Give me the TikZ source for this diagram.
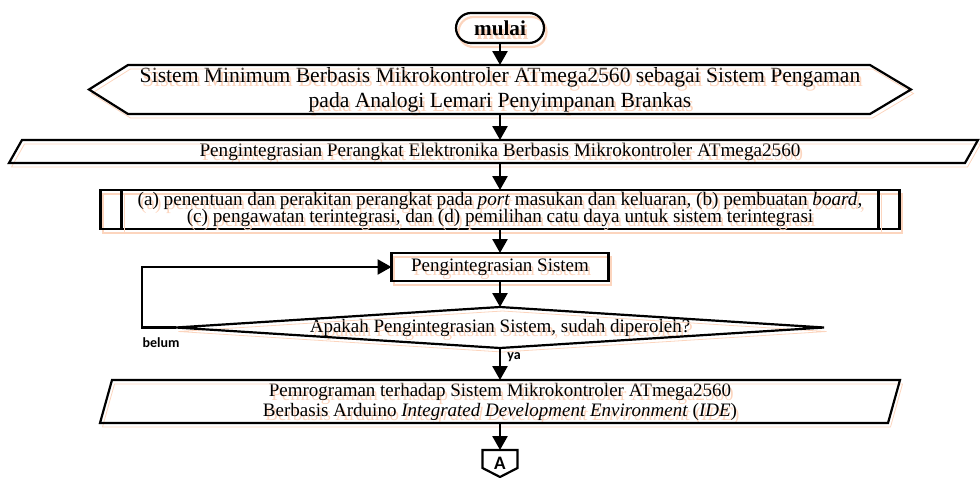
\documentclass[tikz,border=0pt]{standalone}
\usepackage{fontspec}
\setmainfont{Liberation Serif}
\newfontfamily\lblfont{Carlito}
\usetikzlibrary{arrows.meta}
\definecolor{peach}{RGB}{252,213,190}
% centred lines, with a peach shadow below
\newcommand{\lines}[1]{\vbox{\let\\\cr\lineskiplimit=-20pt\halign{\hfil##\hfil\cr#1\crcr}}}
\newcommand{\shtxt}[1]{\leavevmode\rlap{\raisebox{-2pt}[0pt][0pt]{\hspace{1.25pt}\color{peach}\lines{#1}}}\lines{#1}}
\tikzset{
  box/.style 2 args={inner sep=0pt, outer sep=0pt, minimum width=#1*0.5pt, minimum height=#2*0.5pt, font=\fontsize{9.5}{8.5}\selectfont},
  outline/.style={draw=black, line width=1.1pt, line join=miter, preaction={draw=peach, transform canvas={shift={(1.25pt,-2pt)}}}},
  arr/.style={line width=1.3pt, -{Triangle[length=7pt,width=7.5pt]}},
  lbl/.style={font=\lblfont\bfseries\fontsize{7}{8}\selectfont, inner sep=0pt}
}
\begin{document}
\begin{tikzpicture}[x=0.5pt, y=-0.5pt]
\useasboundingbox (0,0) rectangle (980,477);
% start and preparation
\node[box={88}{30}, outline, rounded corners=7.5pt, font=\bfseries\fontsize{10.6}{12}\selectfont] (start) at (500,28) {\shtxt{mulai}};
\node[box={822}{49}, font=\fontsize{10.8}{12.5}\selectfont] (prep) at (500,89.5) {\shtxt{Sistem Minimum Berbasis Mikrokontroler ATmega2560 sebagai Sistem Pengaman\\pada Analogi Lemari Penyimpanan Brankas}};
\draw[outline] (prep.west) -- ([xshift=19.5pt]prep.north west) -- ([xshift=-20.5pt]prep.north east) -- (prep.east) -- ([xshift=-20.5pt]prep.south east) -- ([xshift=19.5pt]prep.south west) -- cycle;
% input
\node[box={969}{23}] (p1) at (493.5,151.5) {};
\node[box={600}{20}, font=\fontsize{9.6}{10}\selectfont] (p1text) at (500,151.5) {\shtxt{Pengintegrasian Perangkat Elektronika Berbasis Mikrokontroler ATmega2560}};
\draw[outline] ([xshift=6.5pt]p1.north west) -- (p1.north east) -- ([xshift=-6.5pt]p1.south east) -- (p1.south west) -- cycle;
% predefined process
\node[box={799}{39}, outline, font=\fontsize{9.6}{8.5}\selectfont] (proc) at (500,209.5) {\shtxt{(a) penentuan dan perakitan perangkat pada \textit{port} masukan dan keluaran, (b) pembuatan \textit{board},\\(c) pengawatan terintegrasi, dan (d) pemilihan catu daya untuk sistem terintegrasi}};
\draw[outline] ([xshift=10.5pt]proc.north west) -- ([xshift=10.5pt]proc.south west)
  ([xshift=-10.5pt]proc.north east) -- ([xshift=-10.5pt]proc.south east);
% process and decision
\node[box={217}{28}, outline] (integ) at (500,267) {\shtxt{Pengintegrasian Sistem}};
\node[box={648}{41}] (dec) at (500,327.5) {\shtxt{Apakah Pengintegrasian Sistem, sudah diperoleh?}};
\draw[outline] (dec.west) -- (dec.north) -- (dec.east) -- (dec.south) -- cycle;
% programming
\node[box={800}{43}, font=\fontsize{9.5}{10}\selectfont] (p2) at (500,401.5) {\shtxt{Pemrograman terhadap Sistem Mikrokontroler ATmega2560\\Berbasis Arduino \textit{Integrated Development Environment} (\textit{IDE})}};
\draw[outline] ([xshift=6pt]p2.north west) -- (p2.north east) -- ([xshift=-6pt]p2.south east) -- (p2.south west) -- cycle;
% off-page connector
\node[box={35}{27}, font=\lblfont\bfseries\fontsize{9.5}{10}\selectfont] (conA) at (500,463.5) {A};
\draw[line width=1.1pt] (conA.north west) -- (conA.north east) -- ([yshift=4.5pt]conA.south east) -- (conA.south) -- ([yshift=4.5pt]conA.south west) -- cycle;
% connectors
\draw[arr] (start.south) -- (prep.north);
\draw[arr] (prep.south) -- (prep.south |- p1.north);
\draw[arr] (proc.north |- p1.south) -- (proc.north);
\draw[arr] (proc.south) -- (integ.north);
\draw[arr] (integ.south) -- (dec.north);
\draw[arr] (dec.south) -- (p2.north);
\draw[arr] (p2.south) -- (conA.north);
\draw[arr] (dec.west) -- ++(-34,0) |- (integ.west);
\node[lbl] (no) at (161,343) {belum};
\node[lbl] (yes) at (514,357) {ya};
\end{tikzpicture}
\end{document}
